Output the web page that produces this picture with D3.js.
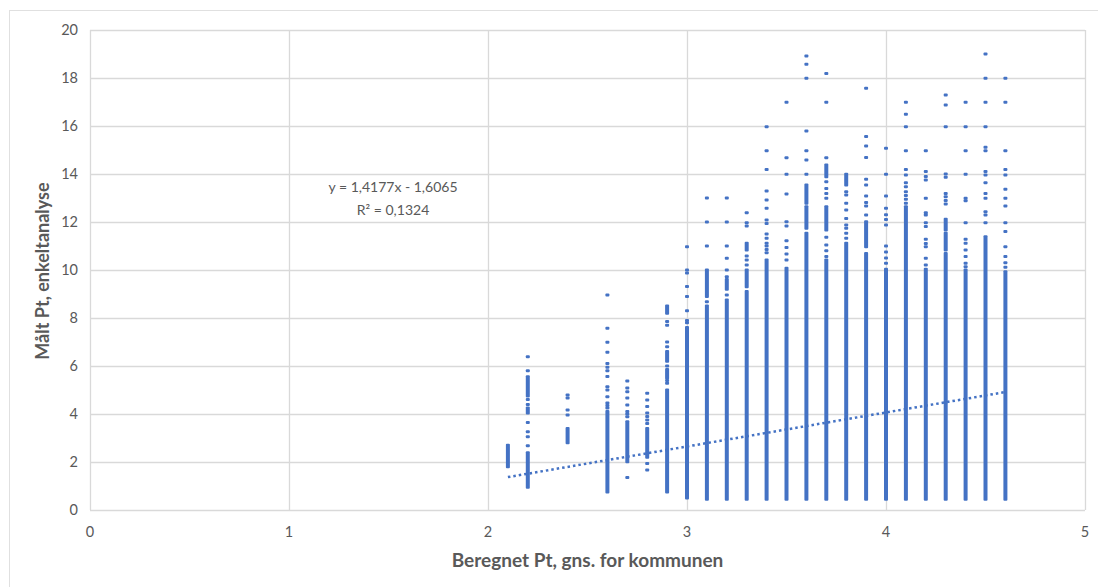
<!DOCTYPE html>
<html>
<head>
<meta charset="utf-8">
<script src="https://cdn.jsdelivr.net/npm/d3@7"></script>
<style>
  body { margin: 0; background: #fff; }
  text { font-family: Lato, "Open Sans", sans-serif; fill: #595959; }
</style>
</head>
<body>
<svg id="chart" width="1098" height="587"></svg>
<script>
// x positions of the columns (beregnet Pt)
var colX = [2.1, 2.2, 2.4, 2.6, 2.7, 2.8, 2.9, 3.0, 3.1, 3.2, 3.3, 3.4, 3.5,
            3.6, 3.7, 3.8, 3.9, 4.0, 4.1, 4.2, 4.3, 4.4, 4.5, 4.6];

// dense runs of overlapping points, [low, high] per column
var denseRuns = [
  [[1.8, 2.7]],
  [[0.95, 2.39], [4.04, 4.25], [4.75, 5.55]],
  [[2.8, 3.4]],
  [[0.75, 4.1]],
  [[2.01, 3.68]],
  [[2.2, 3.4]],
  [[0.75, 5.0], [5.5, 5.85], [6.2, 6.6], [8.2, 8.5]],
  [[0.5, 7.6]],
  [[0.45, 8.5], [8.9, 10.0]],
  [[0.45, 8.75], [9.2, 9.6]],
  [[0.45, 9.1], [9.3, 10.0], [10.83, 11.11]],
  [[0.45, 10.42]],
  [[0.45, 10.07]],
  [[0.45, 11.53], [11.74, 12.64], [12.78, 13.54]],
  [[0.45, 10.42], [11.67, 12.64], [13.89, 14.38]],
  [[0.45, 11.11], [13.54, 13.99]],
  [[0.45, 10.69], [10.97, 12.01]],
  [[0.45, 10.03]],
  [[0.45, 12.64]],
  [[0.45, 10.03]],
  [[0.45, 10.69], [10.83, 11.53], [11.67, 12.11]],
  [[0.45, 10.0]],
  [[0.45, 11.39]],
  [[0.45, 9.93]]
];

// single points outside the dense runs
var singles = [
  [],
  [2.68, 3.05, 3.26, 3.65, 4.4, 4.6, 5.8, 6.39],
  [3.96, 4.17, 4.67, 4.79],
  [4.25, 4.35, 4.46, 4.72, 5.0, 5.14, 5.56, 5.8, 5.95, 6.1, 6.57, 6.99, 7.57, 8.96],
  [1.35, 3.89, 4.0, 4.1, 4.38, 4.67, 4.93, 5.08, 5.375],
  [1.67, 1.94, 3.6, 3.75, 3.9, 4.04, 4.31, 4.58, 4.86],
  [5.28, 5.4, 6.0, 6.8, 7.0, 7.7, 7.85],
  [7.8, 7.9, 8.3, 8.9, 9.31, 9.87, 10.0, 10.97],
  [8.68, 11.0, 12.0, 13.0],
  [8.96, 9.72, 10.0, 10.49, 11.0, 12.0, 13.0],
  [10.21, 10.42, 10.58, 11.83, 11.97, 12.39],
  [10.72, 10.85, 11.0, 11.11, 11.32, 11.5, 11.94, 12.08, 12.57, 12.92, 13.29, 14.19, 14.97, 15.97],
  [10.42, 10.67, 10.94, 11.22, 11.83, 12.01, 13.17, 13.99, 14.68, 16.99],
  [13.99, 14.58, 14.97, 15.79, 17.99, 18.57, 18.92],
  [10.56, 10.8, 11.04, 11.36, 12.99, 13.19, 13.4, 13.68, 14.68, 16.99, 18.19],
  [11.32, 11.53, 11.74, 11.88, 12.15, 12.5, 12.78, 13.12, 13.26],
  [12.29, 12.67, 12.81, 13.08, 13.54, 13.78, 14.69, 15.17, 15.56, 17.57],
  [10.28, 10.5, 10.75, 11.0, 11.88, 12.1, 12.3, 12.57, 13.08, 13.99, 15.07],
  [12.78, 12.95, 13.1, 13.26, 13.47, 13.64, 13.96, 14.19, 14.97, 15.97, 16.49, 16.99],
  [10.21, 10.49, 10.97, 11.1, 11.28, 11.81, 11.97, 12.29, 12.39, 12.99, 13.75, 13.9, 14.1, 14.97],
  [12.75, 12.9, 13.05, 13.19, 13.86, 14.0, 15.97, 16.88, 17.29],
  [10.14, 10.28, 10.56, 10.83, 11.11, 11.28, 11.97, 12.89, 12.99, 13.99, 14.97, 15.97, 16.99],
  [11.97, 12.29, 12.43, 12.99, 13.19, 13.64, 13.96, 14.1, 14.97, 15.11, 15.97, 16.99, 17.99, 19.0],
  [10.11, 10.3, 10.56, 10.97, 11.6, 11.97, 12.67, 12.99, 13.36, 13.96, 14.19, 14.97, 16.99, 17.99]
];

// linear trendline as reported by the chart
var trendSlope = 1.4177;
var trendIntercept = -1.6065;
var trendLabel = ["y = 1,4177x - 1,6065", "R² = 0,1324"];

var xTicks = [0, 1, 2, 3, 4, 5];
var yTicks = [0, 2, 4, 6, 8, 10, 12, 14, 16, 18, 20];

var xTitle = "Beregnet Pt, gns. for kommunen";
var yTitle = "Målt Pt, enkeltanalyse";

var svg = d3.select("#chart");
var margin = {left: 90, right: 13, top: 30, bottom: 77};
var width = 1098 - margin.left - margin.right;
var height = 587 - margin.top - margin.bottom;
var blue = "#4472c4";
var grid = "#d9d9d9";

// outer chart border
svg.append("rect")
    .attr("x", 9.5).attr("y", 10.5)
    .attr("width", 1100).attr("height", 600)
    .attr("fill", "none")
    .attr("stroke", "#e0e0e0");

var g = svg.append("g")
    .attr("transform", "translate(" + margin.left + "," + margin.top + ")");

var x = d3.scaleLinear().domain([0, 5]).range([0, width]);
var y = d3.scaleLinear().domain([0, 20]).range([height, 0]);

// gridlines
g.append("g").selectAll("line")
  .data(yTicks)
  .join("line")
    .attr("x1", 0).attr("x2", width)
    .attr("y1", d => Math.round(y(d)) + 0.5)
    .attr("y2", d => Math.round(y(d)) + 0.5)
    .attr("stroke", grid).attr("stroke-width", 1.3);

g.append("g").selectAll("line")
  .data(xTicks)
  .join("line")
    .attr("x1", d => Math.round(x(d)) + 0.5)
    .attr("x2", d => Math.round(x(d)) + 0.5)
    .attr("y1", 0).attr("y2", height)
    .attr("stroke", grid).attr("stroke-width", 1.3);

// tick labels
g.append("g").selectAll("text")
  .data(yTicks)
  .join("text")
    .attr("x", -12)
    .attr("y", d => y(d))
    .attr("dy", "0.35em")
    .attr("text-anchor", "end")
    .style("font-size", "14.5px")
    .text(d => d);

g.append("g").selectAll("text")
  .data(xTicks)
  .join("text")
    .attr("x", d => x(d))
    .attr("y", height + 22)
    .attr("dy", "0.35em")
    .attr("text-anchor", "middle")
    .style("font-size", "14.5px")
    .text(d => d);

// axis titles
g.append("text")
    .attr("x", width / 2)
    .attr("y", height + 50)
    .attr("dy", "0.35em")
    .attr("text-anchor", "middle")
    .style("font-size", "19px")
    .style("font-weight", "bold")
    .text(xTitle);

g.append("text")
    .attr("transform", "translate(" + (-47) + "," + (height / 2 + 1) + ") rotate(-90)")
    .attr("dy", "0.35em")
    .attr("text-anchor", "middle")
    .style("font-size", "18px")
    .style("font-weight", "bold")
    .text(yTitle);

// dense runs
var runs = [];
colX.forEach(function(cx, i) {
  denseRuns[i].forEach(function(r) { runs.push({x: cx, lo: r[0], hi: r[1]}); });
});
var pts = [];
colX.forEach(function(cx, i) {
  singles[i].forEach(function(v) { pts.push({x: cx, y: v}); });
});

g.append("g").selectAll("rect")
  .data(runs)
  .join("rect")
    .attr("x", d => x(d.x) - 2)
    .attr("y", d => y(d.hi) - 1.5)
    .attr("width", 4)
    .attr("height", d => y(d.lo) - y(d.hi) + 3)
    .attr("rx", 1)
    .attr("fill", blue);

g.append("g").selectAll("rect")
  .data(pts)
  .join("rect")
    .attr("x", d => x(d.x) - 2)
    .attr("y", d => y(d.y) - 1.5)
    .attr("width", 4)
    .attr("height", 3)
    .attr("rx", 1)
    .attr("fill", blue);

// trendline
var tx = d3.extent(colX);
g.append("line")
    .attr("x1", x(tx[0])).attr("y1", y(trendSlope * tx[0] + trendIntercept))
    .attr("x2", x(tx[1])).attr("y2", y(trendSlope * tx[1] + trendIntercept))
    .attr("stroke", blue)
    .attr("stroke-width", 2.5)
    .attr("stroke-dasharray", "2.5 3");

// trendline equation
g.append("g").selectAll("text")
  .data(trendLabel)
  .join("text")
    .attr("x", 303)
    .attr("y", (d, i) => 157 + i * 23)
    .attr("dy", "0.35em")
    .attr("text-anchor", "middle")
    .style("font-size", "14px")
    .text(d => d);
</script>
</body>
</html>
